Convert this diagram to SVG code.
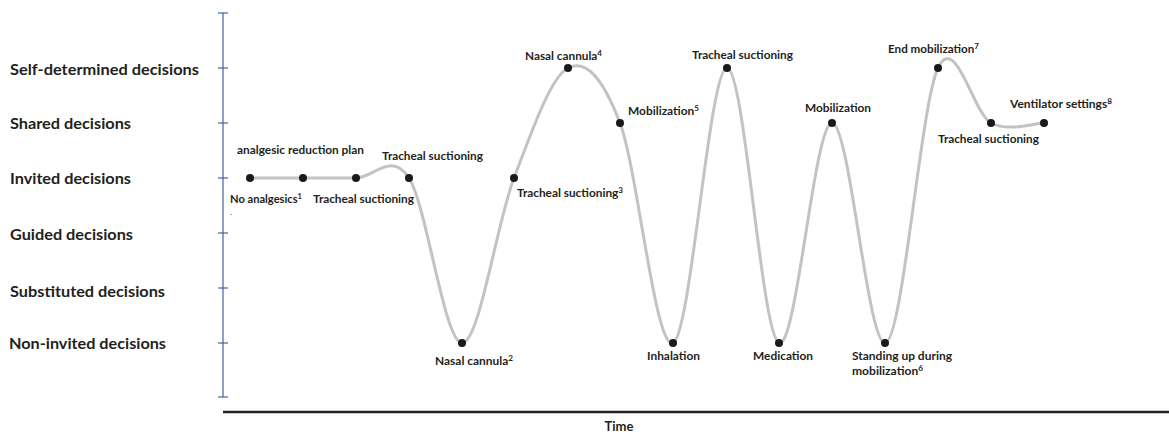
<svg xmlns="http://www.w3.org/2000/svg" width="1169" height="435" viewBox="0 0 1169 435">
<style>
.lvl{font-family:Lato,"Liberation Sans",sans-serif;font-weight:bold;font-size:16px;fill:#231f20}
.lbl{font-family:Lato,"Liberation Sans",sans-serif;font-weight:bold;font-size:11px;fill:#231f20}
.sup{font-size:7.5px}
.dot{fill:#1a1a1a}
.tick{stroke:#3f63a0;stroke-width:1.2}
.curve{fill:none;stroke:#c3c3c3;stroke-width:3;stroke-linecap:round}
</style>
<rect width="1169" height="435" fill="#fff"/>
<g id="y-axis">
<line class="tick" x1="223" y1="13" x2="223" y2="397"/>
<line class="tick" x1="218" y1="13" x2="228" y2="13"/>
<line class="tick" x1="218" y1="68" x2="228" y2="68"/>
<line class="tick" x1="218" y1="123" x2="228" y2="123"/>
<line class="tick" x1="218" y1="178" x2="228" y2="178"/>
<line class="tick" x1="218" y1="233" x2="228" y2="233"/>
<line class="tick" x1="218" y1="288" x2="228" y2="288"/>
<line class="tick" x1="218" y1="343" x2="228" y2="343"/>
<line class="tick" x1="218" y1="397" x2="228" y2="397"/>
<text class="lvl" x="10" y="75" textLength="189" lengthAdjust="spacingAndGlyphs">Self-determined decisions</text>
<text class="lvl" x="10" y="129" textLength="121" lengthAdjust="spacingAndGlyphs">Shared decisions</text>
<text class="lvl" x="10" y="184" textLength="121" lengthAdjust="spacingAndGlyphs">Invited decisions</text>
<text class="lvl" x="10" y="240" textLength="123" lengthAdjust="spacingAndGlyphs">Guided decisions</text>
<text class="lvl" x="10" y="297" textLength="155" lengthAdjust="spacingAndGlyphs">Substituted decisions</text>
<text class="lvl" x="9" y="349" textLength="157" lengthAdjust="spacingAndGlyphs">Non-invited decisions</text>
</g>
<g id="x-axis">
<line x1="223" y1="412" x2="1169" y2="412" stroke="#222" stroke-width="2.5"/>
<text class="lvl" x="619" y="431" text-anchor="middle" style="font-size:13px">Time</text>
</g>
<g id="connectors">
<path class="curve" d="M250,178 C258.83,178 285.33,178 303,178 C320.67,178 338.33,178 356,178 C373.67,178 391.33,150.5 409,178 C426.67,205.5 444.5,343 462,343 C479.5,343 496.33,223.83 514,178 C531.67,132.17 550.33,77.17 568,68 C585.67,58.83 602.5,77.17 620,123 C637.5,168.83 655.17,350 673,343 C690.83,336 709.33,68 727,68 C744.67,68 761.5,336 779,343 C796.5,350 814.33,123 832,123 C849.67,123 867.33,343 885,343 C902.67,343 920.33,104.67 938,68 C955.67,31.33 973.33,113.83 991,123 C1008.67,132.17 1035.17,123 1044,123"/>
</g>
<g id="n1"><circle class="dot" cx="250" cy="178" r="4"/><text class="lbl" x="230" y="203" textLength="72" lengthAdjust="spacingAndGlyphs">No analgesics<tspan class="sup" dy="-4">1</tspan></text></g>
<g id="n2"><circle class="dot" cx="303" cy="178" r="4"/><text class="lbl" x="237" y="154" textLength="127" lengthAdjust="spacingAndGlyphs">analgesic reduction plan</text></g>
<g id="n3"><circle class="dot" cx="356" cy="178" r="4"/><text class="lbl" x="313" y="203" textLength="101" lengthAdjust="spacingAndGlyphs">Tracheal suctioning</text></g>
<g id="n4"><circle class="dot" cx="409" cy="178" r="4"/><text class="lbl" x="382" y="160" textLength="101" lengthAdjust="spacingAndGlyphs">Tracheal suctioning</text></g>
<g id="n5"><circle class="dot" cx="462" cy="343" r="4"/><text class="lbl" x="435" y="365" textLength="78" lengthAdjust="spacingAndGlyphs">Nasal cannula<tspan class="sup" dy="-4">2</tspan></text></g>
<g id="n6"><circle class="dot" cx="514" cy="178" r="4"/><text class="lbl" x="517" y="197" textLength="106" lengthAdjust="spacingAndGlyphs">Tracheal suctioning<tspan class="sup" dy="-4">3</tspan></text></g>
<g id="n7"><circle class="dot" cx="568" cy="68" r="4"/><text class="lbl" x="525" y="60" textLength="77" lengthAdjust="spacingAndGlyphs">Nasal cannula<tspan class="sup" dy="-4">4</tspan></text></g>
<g id="n8"><circle class="dot" cx="620" cy="123" r="4"/><text class="lbl" x="628" y="115" textLength="71" lengthAdjust="spacingAndGlyphs">Mobilization<tspan class="sup" dy="-4">5</tspan></text></g>
<g id="n9"><circle class="dot" cx="673" cy="343" r="4"/><text class="lbl" x="647" y="360" textLength="53" lengthAdjust="spacingAndGlyphs">Inhalation</text></g>
<g id="n10"><circle class="dot" cx="727" cy="68" r="4"/><text class="lbl" x="692" y="59" textLength="101" lengthAdjust="spacingAndGlyphs">Tracheal suctioning</text></g>
<g id="n11"><circle class="dot" cx="779" cy="343" r="4"/><text class="lbl" x="753" y="360" textLength="60" lengthAdjust="spacingAndGlyphs">Medication</text></g>
<g id="n12"><circle class="dot" cx="832" cy="123" r="4"/><text class="lbl" x="805" y="112" textLength="66" lengthAdjust="spacingAndGlyphs">Mobilization</text></g>
<g id="n13"><circle class="dot" cx="885" cy="343" r="4"/><text class="lbl" x="852" y="360" textLength="100" lengthAdjust="spacingAndGlyphs">Standing up during</text><text class="lbl" x="852" y="375" textLength="71" lengthAdjust="spacingAndGlyphs">mobilization<tspan class="sup" dy="-4">6</tspan></text></g>
<g id="n14"><circle class="dot" cx="938" cy="68" r="4"/><text class="lbl" x="888" y="53" textLength="91" lengthAdjust="spacingAndGlyphs">End mobilization<tspan class="sup" dy="-4">7</tspan></text></g>
<g id="n15"><circle class="dot" cx="991" cy="123" r="4"/><text class="lbl" x="938" y="143" textLength="101" lengthAdjust="spacingAndGlyphs">Tracheal suctioning</text></g>
<g id="n16"><circle class="dot" cx="1044" cy="123" r="4"/><text class="lbl" x="1010" y="108" textLength="102" lengthAdjust="spacingAndGlyphs">Ventilator settings<tspan class="sup" dy="-4">8</tspan></text></g>
<circle cx="231" cy="214.5" r="0.8" fill="#999"/>
</svg>
